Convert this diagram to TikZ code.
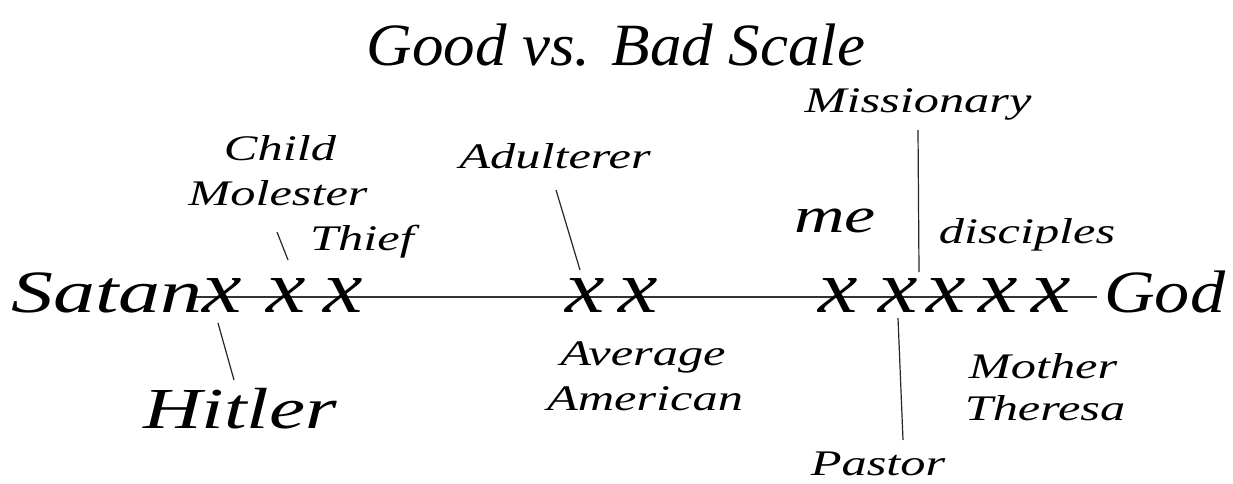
\documentclass[tikz,border=0pt]{standalone}
\usepackage{fontspec}
\setmainfont{Liberation Serif}
\newfontfamily\widefont[FakeStretch=1.4]{Liberation Serif}
\newfontfamily\godfont[FakeStretch=1.17]{Liberation Serif}
\newfontfamily\xfont[FakeStretch=1.2]{Liberation Serif}
\newfontfamily\titlefont[FakeStretch=1.05]{Liberation Serif}
\begin{document}
\begin{tikzpicture}[x=1pt,y=-1pt,
  lbl/.style={font=\widefont\itshape\fontsize{36}{40}\selectfont, inner sep=0pt, anchor=base},
  big/.style={font=\widefont\itshape\fontsize{58}{64}\selectfont, inner sep=0pt, anchor=base},
  xm/.style={font=\xfont\itshape\fontsize{74}{78}\selectfont, inner sep=0pt, anchor=base, text height=0.45em, text depth=0pt},
  ptr/.style={line width=1.2pt, black!85}]
\useasboundingbox[fill=white] (0,0) rectangle (1233,484);
% title
\node[inner sep=0pt, anchor=base, font=\titlefont\itshape\fontsize{60}{66}\selectfont] (title) at (616,66) {Good vs. Bad Scale};
% scale line
\coordinate (L) at (193,297);
\coordinate (R) at (1097,297);
\draw[line width=2pt, black!80] (L) -- (R);
\node[big, font=\widefont\itshape\fontsize{60}{66}\selectfont, anchor=base east] (satan) at (203,312) {Satan};
\node[big, font=\godfont\itshape\fontsize{60}{66}\selectfont, anchor=base west] (god) at (1104,312) {God};
% x marks
\foreach \n/\px in {x1/222,x2/286,x3/343,x4/585,x5/638,x6/838,x7/898,x8/946,x9/998,x10/1051}{
  \node[xm] (\n) at (\px,312) {x};
}
% labels
\node[lbl] (child) at (280,160) {Child};
\node[lbl] (molester) at (278,205) {Molester};
\node[lbl] (thief) at (362,250) {Thief};
\node[lbl] (adult) at (555,168) {Adulterer};
\node[lbl] (mission) at (918,113) {Missionary};
\node[lbl, font=\widefont\itshape\fontsize{50}{56}\selectfont] (me) at (835,232) {me};
\node[lbl] (disc) at (1027,243) {disciples};
\node[big] (hitler) at (240,428) {Hitler};
\node[lbl] (avg) at (643,365) {Average};
\node[lbl] (amer) at (645,410) {American};
\node[lbl] (mother) at (1043,378) {Mother};
\node[lbl] (theresa) at (1045,420) {Theresa};
\node[lbl] (pastor) at (878,475) {Pastor};
% pointer lines
\coordinate (c1) at (277,232); \coordinate (c2) at (288,260);
\draw[ptr] (c1) -- (c2);
\coordinate (a1) at (556,190); \coordinate (a2) at (580,270);
\draw[ptr] (a1) -- (a2);
\coordinate (m1) at (918,130); \coordinate (m2) at (919,272);
\draw[ptr] (m1) -- (m2);
\coordinate (h1) at (218,323); \coordinate (h2) at (234,380);
\draw[ptr] (h1) -- (h2);
\coordinate (p1) at (898,318); \coordinate (p2) at (903,440);
\draw[ptr] (p1) -- (p2);
\end{tikzpicture}
\end{document}
